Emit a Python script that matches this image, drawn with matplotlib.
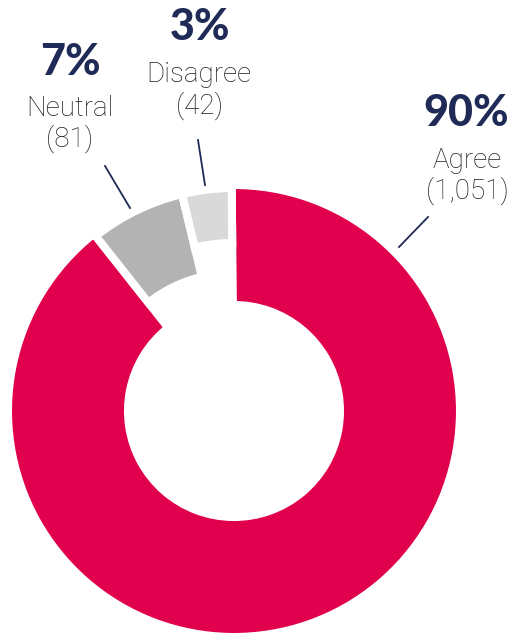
import matplotlib.pyplot as plt

# data
labels = ["Agree", "Neutral", "Disagree"]
counts = [1051, 81, 42]
pct_labels = ["90%", "7%", "3%"]
count_labels = ["(1,051)", "(81)", "(42)"]

colors = ["#E0004D", "#B3B3B3", "#D9D9D9"]
navy = "#1F2A56"
textc = "#1E1E1E"

W, H = 519, 636
fig = plt.figure(figsize=(W / 100, H / 100), dpi=100)
ax = fig.add_axes([0, 0, 1, 1])

cx, cy = 234, H - 411
# outer radius / ring width per slice (pixels, incl. white edge)
outer = [226, 223, 223]
ring = [120, 85, 55]

wedges, _ = ax.pie(counts, colors=colors, startangle=90.6, counterclock=False,
                   center=(cx, cy), radius=226,
                   wedgeprops=dict(edgecolor="white", linewidth=5.8))
for w, r, wd in zip(wedges, outer, ring):
    w.set_radius(r)
    w.set_width(wd)

ax.set_xlim(0, W)
ax.set_ylim(0, H)
ax.set_aspect("equal")
ax.axis("off")

# label layout (image pixel coords, y from top)
pct_pos = [(466, 113), (70, 62), (200, 27)]
name_pos = [(467, 160), (70, 108), (199, 75)]
cnt_pos = [(467, 191), (70, 139), (199, 106)]
leaders = [((428, 217), (399, 247)), ((105, 166), (130, 208)), ((198, 140), (205, 185))]

for i in range(len(labels)):
    x, y = pct_pos[i]
    ax.text(x, H - y, pct_labels[i], ha="center", va="center", fontsize=31,
            fontfamily="Lato", fontweight="black", color=navy)
    x, y = name_pos[i]
    ax.text(x, H - y, labels[i], ha="center", va="center", fontsize=20,
            fontfamily="Roboto", fontweight="light", color=textc)
    x, y = cnt_pos[i]
    ax.text(x, H - y, count_labels[i], ha="center", va="center", fontsize=20,
            fontfamily="Roboto", fontweight="light", color=textc)
    (x1, y1), (x2, y2) = leaders[i]
    ax.plot([x1, x2], [H - y1, H - y2], color=navy, lw=1.3)

fig.savefig("out.png", dpi=100)
